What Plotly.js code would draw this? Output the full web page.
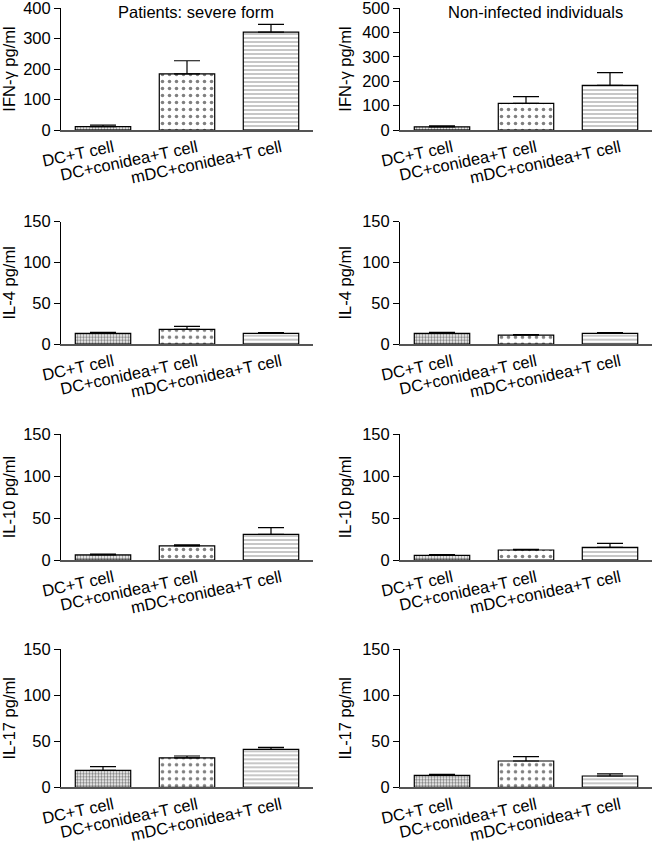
<!DOCTYPE html>
<html>
<head>
<meta charset="utf-8">
<script src="https://cdn.plot.ly/plotly-3.0.1.min.js"></script>
<style>html,body{margin:0;padding:0;background:#fff;}#chart{width:653px;height:850px;}</style>
</head>
<body>
<div id="chart"></div>
<script>
const categories = ["DC+T cell", "DC+conidea+T cell", "mDC+conidea+T cell"];

const ifnPatients = [11, 184, 321];
const ifnPatientsErr = [5, 43, 25];
const ifnControls = [13, 109, 183];
const ifnControlsErr = [4, 28, 52];

const il4Patients = [13, 18, 13];
const il4PatientsErr = [1.3, 3.7, 1];
const il4Controls = [13, 11, 13];
const il4ControlsErr = [1.3, 0.5, 1];

const il10Patients = [6, 16.7, 30.6];
const il10PatientsErr = [1, 1.2, 8];
const il10Controls = [5.5, 11.9, 15];
const il10ControlsErr = [0.8, 0.8, 4.8];

const il17Patients = [18.5, 32, 41.3];
const il17PatientsErr = [4, 2, 2.2];
const il17Controls = [13, 28.6, 12.3];
const il17ControlsErr = [1, 4.7, 2.2];

const yTitles = ["IFN-γ pg/ml", "IL-4 pg/ml", "IL-10 pg/ml", "IL-17 pg/ml"];
const columnTitles = ["Patients: severe form", "Non-infected individuals"];

const panels = [
  {v: ifnPatients, e: ifnPatientsErr, row: 0, col: 0, max: 400},
  {v: ifnControls, e: ifnControlsErr, row: 0, col: 1, max: 500},
  {v: il4Patients, e: il4PatientsErr, row: 1, col: 0, max: 150},
  {v: il4Controls, e: il4ControlsErr, row: 1, col: 1, max: 150},
  {v: il10Patients, e: il10PatientsErr, row: 2, col: 0, max: 150},
  {v: il10Controls, e: il10ControlsErr, row: 2, col: 1, max: 150},
  {v: il17Patients, e: il17PatientsErr, row: 3, col: 0, max: 150},
  {v: il17Controls, e: il17ControlsErr, row: 3, col: 1, max: 150}
];

const W = 653, H = 850;
const xDomPx = [[61, 313], [400, 652]];
const yDomPx = [[8, 130], [221.7, 344], [434, 560], [649.3, 787.3]];

const font = "Liberation Sans, Arial, Helvetica, sans-serif";
const fs = 16.5;
const traces = [];
const layout = {
  width: W, height: H,
  margin: {l: 0, r: 0, t: 0, b: 0},
  paper_bgcolor: "#fff", plot_bgcolor: "rgba(0,0,0,0)",
  showlegend: false,
  font: {family: font, size: fs, color: "#000"},
  annotations: []
};

panels.forEach((p, i) => {
  const n = i + 1;
  const xa = "x" + (n === 1 ? "" : n), ya = "y" + (n === 1 ? "" : n);
  const xk = "xaxis" + (n === 1 ? "" : n), yk = "yaxis" + (n === 1 ? "" : n);
  traces.push({
    type: "bar", x: categories, y: p.v, xaxis: xa, yaxis: ya,
    width: 0.66,
    marker: {
      color: "#fff",
      line: {color: "#000", width: 1.2},
      pattern: {
        shape: [".", ".", "-"],
        size: [3, 7, 4],
        solidity: [0.5, 0.2, 0.22],
        fgcolor: "#000", bgcolor: "#fff", fillmode: "overlay"
      }
    },
    error_y: {type: "data", symmetric: false, array: p.e, arrayminus: [0, 0, 0],
              color: "#000", thickness: 1.2, width: 13},
    hoverinfo: "skip"
  });
  const xd = xDomPx[p.col], yd = yDomPx[p.row];
  layout[xk] = {
    domain: [xd[0] / W, xd[1] / W], anchor: ya,
    range: [-0.5, 2.5], type: "category",
    showline: true, linecolor: "#555", linewidth: 2,
    ticks: "", showgrid: false, zeroline: false,
    tickangle: -12, ticklabelshift: 10, ticklabelstandoff: 0,
    ticklabeloverflow: "allow",
    tickfont: {family: font, size: fs, color: "#000"}
  };
  layout[yk] = {
    domain: [1 - yd[1] / H, 1 - yd[0] / H], anchor: xa,
    range: [0, p.max], dtick: p.max === 150 ? 50 : 100,
    showline: true, linecolor: "#000", linewidth: 1,
    ticks: "outside", ticklen: 6, tickcolor: "#000", tickwidth: 1,
    showgrid: false, zeroline: false,
    ticklabeloverflow: "allow",
    tickfont: {family: font, size: fs, color: "#000"},
    title: {text: yTitles[p.row], font: {family: font, size: fs, color: "#000"}, standoff: 6}
  };
});

columnTitles.forEach((t, c) => {
  layout.annotations.push({
    text: t, xref: "paper", yref: "paper",
    x: (c === 0 ? 196 : 535) / W, y: 1 - 12 / H,
    xanchor: "center", yanchor: "middle", showarrow: false,
    font: {family: font, size: fs, color: "#000"}
  });
});

Plotly.newPlot("chart", traces, layout, {displayModeBar: false, staticPlot: true});
</script>
</body>
</html>
